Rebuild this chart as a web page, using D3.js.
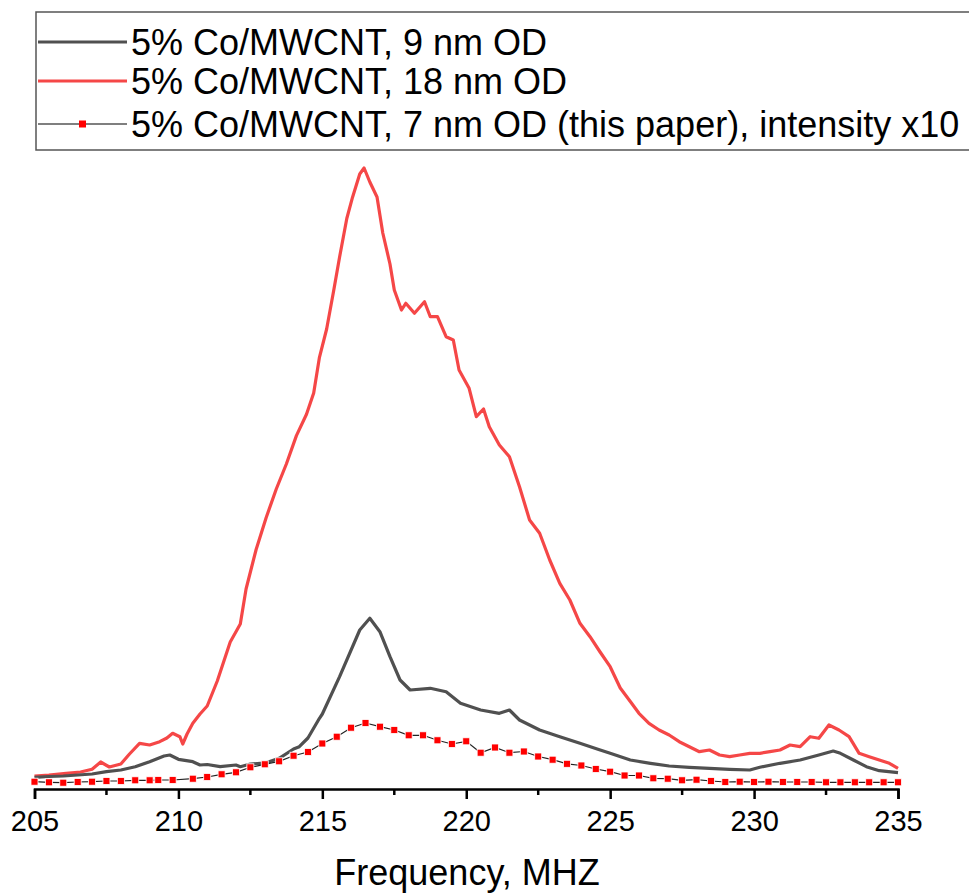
<!DOCTYPE html>
<html>
<head>
<meta charset="utf-8">
<script src="https://cdn.jsdelivr.net/npm/d3@7"></script>
<style>
  body { margin: 0; background: #fff; }
  text { font-family: Arial, "Liberation Sans", sans-serif; }
</style>
</head>
<body>
<div id="chart"></div>
<script>
// frequency (MHz) and intensity (a.u.)
var freq9 = [205.0,205.5,206.0,206.5,207.0,207.5,208.0,208.5,209.0,209.5,209.7,210.0,210.5,210.75,211.0,211.45,212.0,212.15,212.5,212.85,213.0,213.5,214.0,214.2,214.5,214.9,215.0,215.6,216.3,216.65,217.0,217.35,217.7,218.05,218.75,219.3,219.8,220.5,221.15,221.5,221.85,222.55,223.25,223.95,224.6,225.0,225.7,226.4,227.05,227.75,228.45,229.15,229.85,230.2,230.9,231.6,232.25,232.75,233.0,233.45,233.9,234.35,235.0];
var int9  = [11.7,12.5,13,14,15,17.3,19,22.3,27.3,33,34,29.7,27.3,24,24.5,22.3,24,22.3,25,25.7,25.7,30.7,40,42.3,51,70.7,75,112.3,159,170.7,157.3,132.3,109,99,100.7,97.3,85.7,79,75.7,79,69,59,52.3,45.7,39.5,35.7,29,25.7,23,21.7,20.7,19.7,19,21.7,25.7,29,34,38,35.7,29,22.3,18.3,16.3];

var freq18 = [205.0,205.5,206.1,206.6,207.0,207.3,207.6,208.0,208.3,208.65,209.0,209.35,209.6,209.8,210.05,210.15,210.3,210.5,210.75,211.0,211.35,211.8,212.15,212.35,212.7,213.05,213.4,213.75,214.1,214.45,214.7,214.9,215.15,215.4,215.6,215.85,216.05,216.3,216.45,216.65,216.9,217.1,217.35,217.5,217.75,217.9,218.2,218.55,218.75,219.0,219.3,219.55,219.75,220.1,220.35,220.6,220.8,221.15,221.5,221.85,222.2,222.55,222.9,223.25,223.6,223.95,224.3,224.65,225.0,225.35,225.7,226.0,226.35,226.7,227.05,227.4,227.75,228.1,228.45,228.8,229.15,229.5,229.85,230.2,230.55,230.9,231.25,231.6,231.95,232.25,232.6,232.95,233.3,233.65,234.0,234.35,234.7,235.0];
var int18  = [13,14,15.7,17,19.7,27,22,25,35,45.7,44,47.3,51,55.7,52.3,45,55,65.7,75,83,108,147,165,200,239.5,271.5,300,325,353.4,374.7,396,431.7,460,499.3,532,570.5,591.8,615,621,607,592,556,525,499,479,485.7,475.7,487.3,472.3,472.3,452.3,449,419,400.7,372.3,380,362.3,344,332.3,302.3,269,255.7,229,205.7,189,165.7,152.3,137,122.3,101,87.5,75.7,65.7,59,54,47.3,42.3,37.3,39,34,32.3,34,35.7,35.7,37.3,39,44,42.3,52.3,50.7,64,59,52.3,35.7,32.3,29,25.7,20.7];

var freq7 = [205.0,205.5,206.0,206.5,207.0,207.5,208.0,208.5,209.0,209.3,209.8,210.5,211.0,211.5,212.0,212.5,213.0,213.5,214.0,214.5,215.0,215.5,216.0,216.5,217.0,217.5,218.0,218.5,219.0,219.5,220.0,220.5,221.0,221.5,222.0,222.5,223.0,223.5,224.0,224.5,225.0,225.5,226.0,226.5,227.0,227.5,228.0,228.5,229.0,229.5,230.0,230.5,231.0,231.5,232.0,232.5,233.0,233.5,234.0,234.5,235.0];
var int7  = [7.3,6.7,6.3,7,7.3,8,8,8.7,8.7,9,9,10.3,12,14.7,16.7,21.7,24.7,27.7,33.3,37,45.5,52.3,61.3,66,62.3,59,53.7,53.7,48.7,45,47.7,36.3,41.5,36.3,37.5,32.5,29.3,25.2,23.5,20,17.3,13.5,13.5,10.7,10.3,8.7,9.3,8,7,7.3,7,7.3,7,7,7,6.7,6.7,6.7,6.7,6.7,6.7];

var xTicks = [205,210,215,220,225,230,235];
var legendLabels = ["5% Co/MWCNT, 9 nm OD","5% Co/MWCNT, 18 nm OD","5% Co/MWCNT, 7 nm OD (this paper), intensity x10"];

var width = 969, height = 895;
var red = "#f54747", grey = "#505050";

var svg = d3.select("#chart").append("svg")
  .attr("width", width).attr("height", height);

var x = d3.scaleLinear().domain([205,235]).range([34.5,898]);
var y = d3.scaleLinear().domain([0,624]).range([789,165]);

var line = d3.line().x(function(d){return x(d[0]);}).y(function(d){return y(d[1]);});

function pairs(f, v){ return f.map(function(d,i){ return [d, v[i]]; }); }

// red 18 nm
svg.append("path").datum(pairs(freq18,int18))
  .attr("d", line).attr("fill","none").attr("stroke",red).attr("stroke-width",3.2).attr("stroke-linejoin","round");
// grey 9 nm
svg.append("path").datum(pairs(freq9,int9))
  .attr("d", line).attr("fill","none").attr("stroke",grey).attr("stroke-width",3.2).attr("stroke-linejoin","round");
// 7 nm with markers
var d7 = pairs(freq7,int7);
svg.append("path").datum(d7)
  .attr("d", line).attr("fill","none").attr("stroke","#222").attr("stroke-width",1.2);
svg.selectAll("rect.m7").data(d7).enter().append("rect")
  .attr("class","m7")
  .attr("x", function(d){return x(d[0])-3.5;})
  .attr("y", function(d){return y(d[1])-3.5;})
  .attr("width",7).attr("height",7)
  .attr("fill","#ff0000").attr("stroke","#fff").attr("stroke-width",0.8);

// x axis
var gx = svg.append("g").attr("transform","translate(0,789)");
gx.call(d3.axisBottom(x).tickValues(xTicks).tickSize(10).tickPadding(11).tickFormat(d3.format("d")));
gx.select(".domain").attr("stroke","#000").attr("stroke-width",2.5);
gx.selectAll(".tick line").attr("stroke","#000").attr("stroke-width",2.5);
gx.selectAll(".tick text").attr("font-size","29px").attr("fill","#000").attr("font-family","Arial, 'Liberation Sans', sans-serif");
gx.selectAll("line.minor").data(d3.range(207.5,235,5)).enter().append("line")
  .attr("class","minor")
  .attr("x1",function(d){return x(d);}).attr("x2",function(d){return x(d);})
  .attr("y1",0).attr("y2",6).attr("stroke","#000").attr("stroke-width",2.5);

svg.append("text").attr("x",467).attr("y",885).attr("text-anchor","middle")
  .attr("font-size","36px").attr("fill","#000").text("Frequency, MHZ");

// legend
svg.append("rect").attr("x",36).attr("y",12).attr("width",960).attr("height",138)
  .attr("fill","#fff").attr("stroke","#555").attr("stroke-width",1.5);
var ly = [42,81,124];
var lg = svg.selectAll("g.leg").data(legendLabels).enter().append("g").attr("class","leg")
  .attr("transform",function(d,i){return "translate(0,"+ly[i]+")";});
lg.append("line").attr("x1",38).attr("x2",127).attr("y1",0).attr("y2",0)
  .attr("stroke",function(d,i){return i==0?grey:(i==1?red:"#555");})
  .attr("stroke-width",function(d,i){return i==2?1.5:3;});
lg.filter(function(d,i){return i==2;}).append("rect")
  .attr("x",79).attr("y",-3.5).attr("width",7).attr("height",7).attr("fill","#ff0000");
lg.append("text").attr("x",131).attr("y",13).attr("font-size","36px").attr("fill","#000")
  .text(function(d){return d;});
</script>
</body>
</html>
